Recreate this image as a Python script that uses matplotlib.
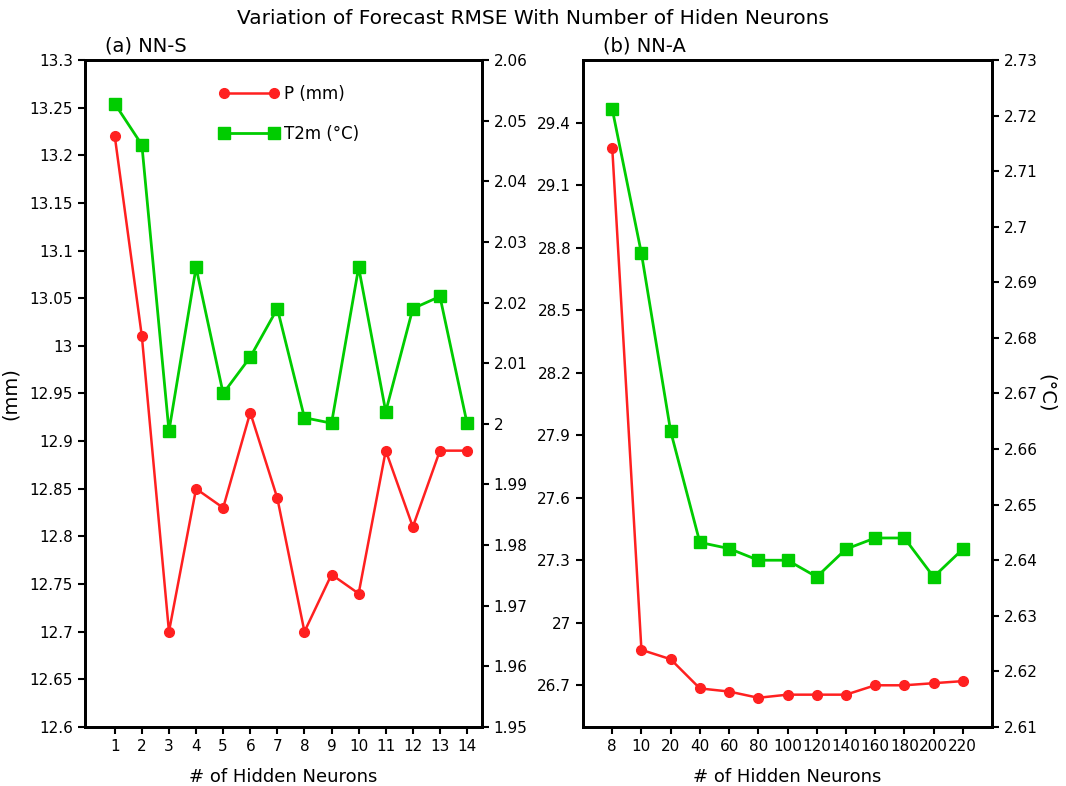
import numpy as np
import matplotlib
matplotlib.use("Agg")
import matplotlib.pyplot as plt

plt.rcParams["font.family"] = ["DejaVu Sans"]

# ---- data ----
NNS_X = list(range(1, 15))
NNS_P = [13.22, 13.01, 12.70, 12.85, 12.83, 12.93, 12.84, 12.70, 12.76, 12.74, 12.89, 12.81, 12.89, 12.89]
NNS_T = [2.0528, 2.0460, 1.9988, 2.0258, 2.0050, 2.0110, 2.0190, 2.0010, 2.0001, 2.0258, 2.0020, 2.0190, 2.0210, 2.0001]

NNA_LABELS = ["8", "10", "20", "40", "60", "80", "100", "120", "140", "160", "180", "200", "220"]
NNA_P = [29.28, 26.87, 26.825, 26.685, 26.67, 26.64, 26.655, 26.655, 26.655, 26.70, 26.70, 26.71, 26.72]
NNA_T = [2.7212, 2.6952, 2.6632, 2.6432, 2.6421, 2.6400, 2.6400, 2.6370, 2.6420, 2.6440, 2.6440, 2.6370, 2.6420]

RED = "#ff2020"
GREEN = "#00cc00"

fig = plt.figure(figsize=(10.66, 7.86), dpi=100)

TICK_FS = 11
LABEL_FS = 13


def style_axes(ax):
    for s in ax.spines.values():
        s.set_linewidth(2.0)
    ax.tick_params(direction="out", length=5, width=1.5, labelsize=TICK_FS)


# ---- (a) NN-S ----
ax1 = fig.add_axes([0.0797, 0.0751, 0.3724, 0.8486])
ax1r = ax1.twinx()
l1, = ax1.plot(NNS_X, NNS_P, color=RED, lw=1.8, marker="o", ms=7, label="P (mm)")
l2, = ax1r.plot(NNS_X, NNS_T, color=GREEN, lw=2.0, marker="s", ms=8.5, label="T2m (\u00b0C)")
ax1.set_xlim(-0.1, 14.55)
lt1 = np.round(np.arange(12.6, 13.3001, 0.05), 2)
ax1.set_ylim(12.6, 13.3)
ax1.set_yticks(lt1)
ax1.set_yticklabels([f"{v:g}" for v in lt1])
ax1r.set_ylim(1.95, 2.06)
rt = np.round(np.arange(1.95, 2.0601, 0.01), 2)
ax1r.set_yticks(rt)
ax1r.set_yticklabels([f"{v:g}" for v in rt])
ax1.set_xticks(NNS_X)
ax1.set_ylabel("(mm)", fontsize=LABEL_FS + 1)
ax1.yaxis.set_label_coords(-0.165, 0.5)
ax1.set_xlabel("# of Hidden Neurons", fontsize=LABEL_FS, labelpad=10)
ax1.set_title("(a) NN-S", loc="left", fontsize=LABEL_FS + 1, x=0.05, pad=6)
for a in (ax1, ax1r):
    style_axes(a)
ax1.legend(handles=[l1, l2], loc="upper left", bbox_to_anchor=(0.30, 0.985),
           frameon=False, numpoints=2, handlelength=3.6, handletextpad=0.3,
           fontsize=12, labelspacing=1.3)

# ---- (b) NN-A ----
ax2 = fig.add_axes([0.5469, 0.0751, 0.3837, 0.8486])
ax2r = ax2.twinx()
xi = np.arange(len(NNA_LABELS))
ax2.plot(xi, NNA_P, color=RED, lw=1.8, marker="o", ms=7)
ax2r.plot(xi, NNA_T, color=GREEN, lw=2.0, marker="s", ms=8.5)
ax2.set_xlim(-1.0, 13.0)
ax2.set_xticks(xi)
ax2.set_xticklabels(NNA_LABELS)
ax2.set_ylim(26.5, 29.7)
lt = np.round(np.arange(26.7, 29.401, 0.3), 1)
ax2.set_yticks(lt)
ax2.set_yticklabels([f"{v:g}" for v in lt])
ax2r.set_ylim(2.61, 2.73)
rt2 = np.round(np.arange(2.61, 2.7301, 0.01), 2)
ax2r.set_yticks(rt2)
ax2r.set_yticklabels([f"{v:g}" for v in rt2])
ax2.set_xlabel("# of Hidden Neurons", fontsize=LABEL_FS, labelpad=10)
ax2.set_title("(b) NN-A", loc="left", fontsize=LABEL_FS + 1, x=0.05, pad=6)
for a in (ax2, ax2r):
    style_axes(a)

fig.text(0.982, 0.5, "(\u00b0C)", rotation=270, ha="center", va="center",
         fontsize=LABEL_FS + 1)
fig.text(0.5, 0.977, "Variation of Forecast RMSE With Number of Hiden Neurons",
         ha="center", va="center", fontsize=14.5)

fig.savefig("out.png", dpi=100)
